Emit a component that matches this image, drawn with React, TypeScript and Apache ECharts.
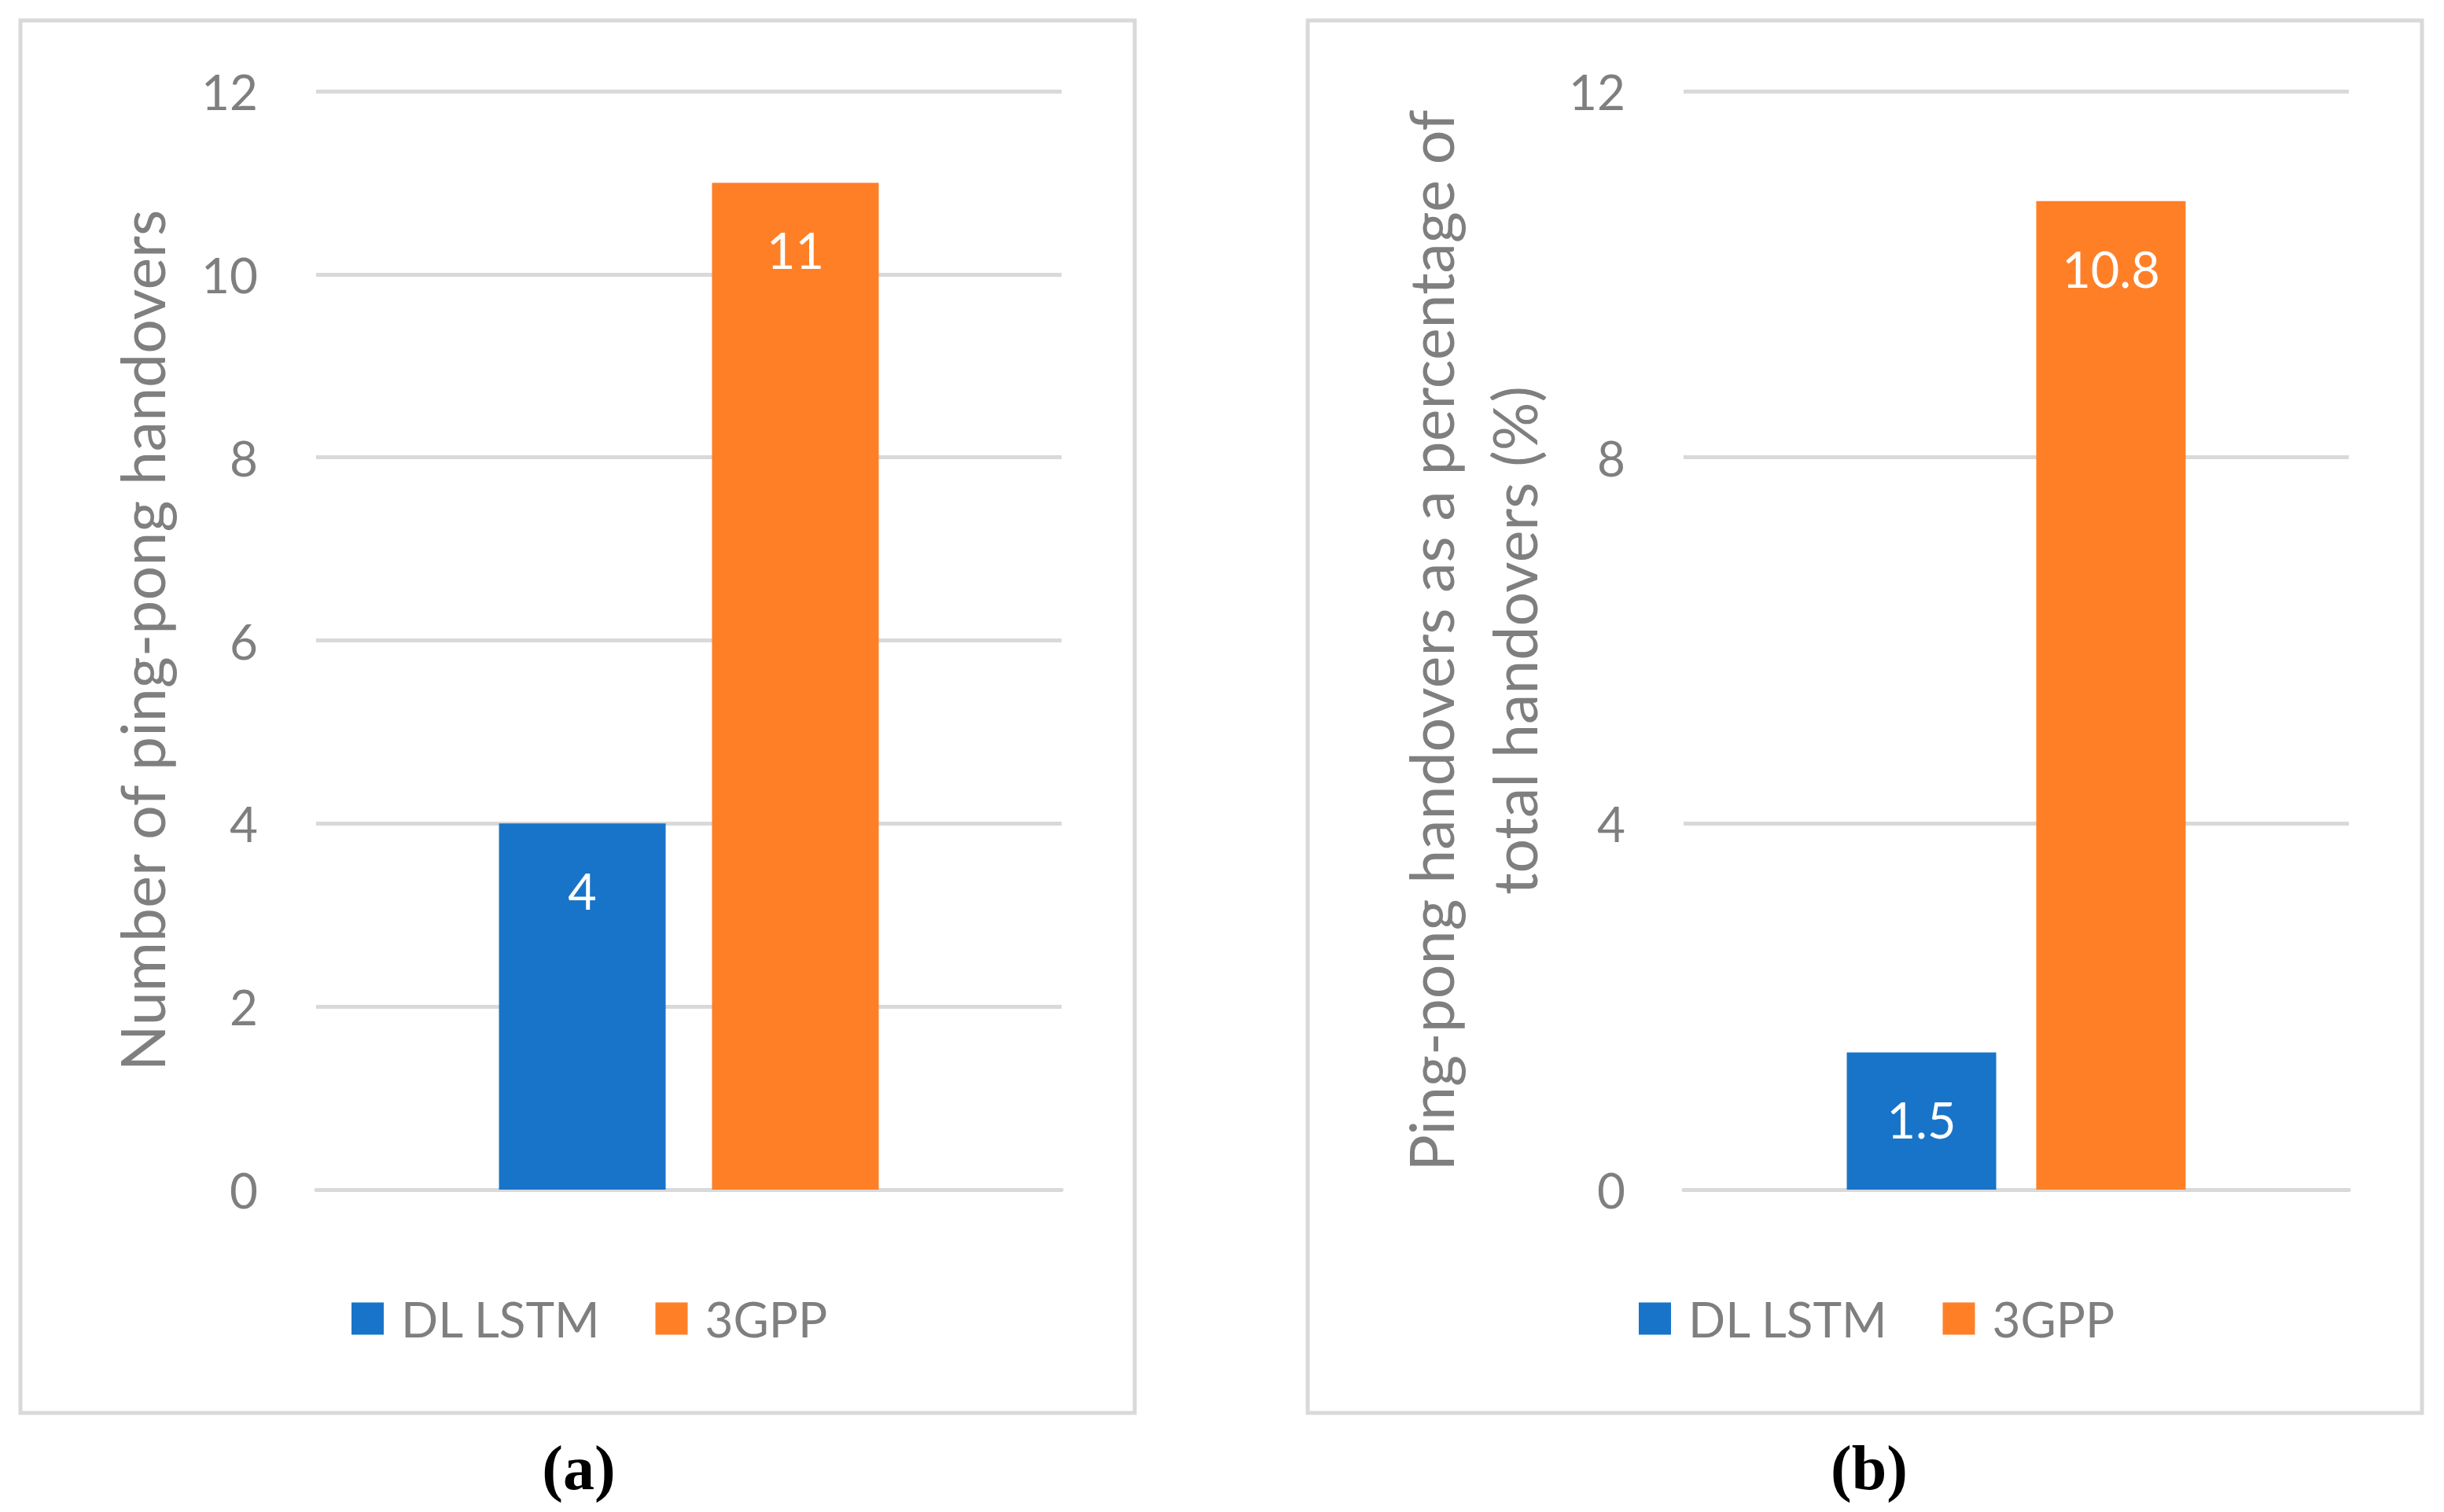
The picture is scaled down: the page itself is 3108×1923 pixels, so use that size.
import React, { useEffect, useRef } from "react";
import * as echarts from "echarts";

// ---- data ----
const seriesNames = ["DL LSTM", "3GPP"];
const categories = ["Ping-pong"];
const dlLstmCount = [4];
const gppCount = [11];
const dlLstmPercent = [1.5];
const gppPercent = [10.8];
const axisAMax = 12;
const axisAInterval = 2;
const axisBMax = 12;
const axisBInterval = 4;
const axisAName = "Number of ping-pong handovers";
const axisBName = "Ping-pong handovers as a percentage of\ntotal handovers (%)";
const captionA = "(a)";
const captionB = "(b)";

const BLUE = "#1874c8";
const ORANGE = "#ff7f27";
const GRAY = "#7f7f7f";
const GRID_COLOR = "#d9d9d9";
const FONT = 'Lato, "Open Sans", sans-serif';

export default function App() {
  const ref = useRef<HTMLDivElement>(null);
  useEffect(() => {
    document.body.style.margin = "0";
    const chart = echarts.init(ref.current as HTMLDivElement, undefined, { renderer: "svg" });

    const yAxisCommon = (max: number, interval: number) => ({
      type: "value",
      min: 0,
      max,
      interval,
      axisLine: { show: false },
      axisTick: { show: false },
      splitLine: { show: true, lineStyle: { color: GRID_COLOR, width: 5 } },
      axisLabel: { color: GRAY, fontSize: 62, fontFamily: FONT, margin: 74 },
      nameLocation: "middle",
      nameTextStyle: { color: GRAY, fontSize: 77, fontFamily: FONT, lineHeight: 77 },
    });

    const xAxisCommon = (gridIndex: number) => ({
      type: "category",
      gridIndex,
      data: categories,
      axisLine: { show: true, lineStyle: { color: GRID_COLOR, width: 5 } },
      axisTick: { show: false },
      axisLabel: { show: false },
    });

    const labelCommon = {
      show: true,
      position: "insideTop",
      distance: 54,
      color: "#ffffff",
      fontSize: 63,
      fontFamily: FONT,
    };

    const legendCommon = {
      orient: "horizontal",
      padding: 0,
      itemWidth: 41,
      itemHeight: 41,
      itemGap: 69,
      icon: "rect",
      top: 1646,
      textStyle: { color: GRAY, fontSize: 62, fontFamily: FONT, padding: [0, 0, 0, 17] },
      data: seriesNames,
    };

    chart.setOption({
      animation: false,
      backgroundColor: "#ffffff",
      grid: [
        { left: 402, top: 116, width: 948, height: 1397, outerBoundsMode: "none", containLabel: false },
        { left: 2141, top: 116, width: 846, height: 1397, outerBoundsMode: "none", containLabel: false },
      ],
      xAxis: [xAxisCommon(0), xAxisCommon(1)],
      yAxis: [
        { ...yAxisCommon(axisAMax, axisAInterval), gridIndex: 0, name: axisAName, nameGap: 184 },
        {
          ...yAxisCommon(axisBMax, axisBInterval),
          gridIndex: 1,
          name: axisBName,
          nameGap: 163,
          nameTextStyle: { color: GRAY, fontSize: 77, fontFamily: FONT, lineHeight: 106 },
        },
      ],
      legend: [
        { ...legendCommon, left: 447 },
        { ...legendCommon, left: 2084 },
      ],
      series: [
        {
          name: seriesNames[0],
          type: "bar",
          xAxisIndex: 0,
          yAxisIndex: 0,
          data: dlLstmCount,
          barWidth: 212,
          barGap: "27.8%",
          itemStyle: { color: BLUE },
          label: labelCommon,
        },
        {
          name: seriesNames[1],
          type: "bar",
          xAxisIndex: 0,
          yAxisIndex: 0,
          data: gppCount,
          barWidth: 212,
          barGap: "27.8%",
          itemStyle: { color: ORANGE },
          label: labelCommon,
        },
        {
          name: seriesNames[0],
          type: "bar",
          xAxisIndex: 1,
          yAxisIndex: 1,
          data: dlLstmPercent,
          barWidth: 190,
          barGap: "26.8%",
          itemStyle: { color: BLUE },
          label: labelCommon,
        },
        {
          name: seriesNames[1],
          type: "bar",
          xAxisIndex: 1,
          yAxisIndex: 1,
          data: gppPercent,
          barWidth: 190,
          barGap: "26.8%",
          itemStyle: { color: ORANGE },
          label: labelCommon,
        },
      ],
      graphic: [
        {
          type: "rect",
          shape: { x: 26, y: 26, width: 1417, height: 1771 },
          style: { fill: "transparent", stroke: GRID_COLOR, lineWidth: 5 },
          z: -10,
          silent: true,
        },
        {
          type: "rect",
          shape: { x: 1663, y: 26, width: 1417, height: 1771 },
          style: { fill: "transparent", stroke: GRID_COLOR, lineWidth: 5 },
          z: -10,
          silent: true,
        },
        {
          type: "text",
          x: 736,
          y: 1867,
          style: {
            text: captionA,
            fontSize: 80,
            fontWeight: "bold",
            fontFamily: '"Liberation Serif", serif',
            fill: "#000000",
            align: "center",
            verticalAlign: "middle",
          },
        },
        {
          type: "text",
          x: 2377,
          y: 1867,
          style: {
            text: captionB,
            fontSize: 80,
            fontWeight: "bold",
            fontFamily: '"Liberation Serif", serif',
            fill: "#000000",
            align: "center",
            verticalAlign: "middle",
          },
        },
      ],
    });

    return () => {
      chart.dispose();
    };
  }, []);

  return (
    <div
      ref={ref}
      style={{ position: "absolute", left: 0, top: 0, width: 3108, height: 1923 }}
    />
  );
}
